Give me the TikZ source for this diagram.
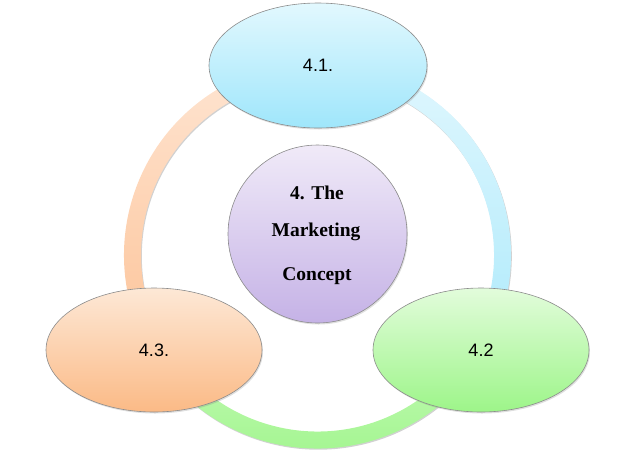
\documentclass[tikz,border=0pt]{standalone}
\usepackage{fontspec}
\setmainfont{Liberation Serif}
\newfontfamily\arialfont{Liberation Sans}
\usetikzlibrary{shapes.geometric,shadows}
\definecolor{blueT}{HTML}{E2F8FE}
\definecolor{blueB}{HTML}{9FE6FB}
\definecolor{purT}{HTML}{F0EAF8}
\definecolor{purB}{HTML}{C5B2E6}
\definecolor{orT}{HTML}{FDE8D6}
\definecolor{orB}{HTML}{FBBA86}
\definecolor{grT}{HTML}{E2FCDB}
\definecolor{grB}{HTML}{9DF589}
\definecolor{rbT}{HTML}{E0F7FE}
\definecolor{rbB}{HTML}{AEEAFB}
\definecolor{rgT}{HTML}{C4F9B6}
\definecolor{rgB}{HTML}{9EF58A}
\definecolor{roT}{HTML}{FEE5D2}
\definecolor{roB}{HTML}{FDC398}
\definecolor{edge}{HTML}{8C8C8C}
\tikzset{
  bubble/.style={ellipse, draw=edge, line width=0.6pt, inner sep=0pt,
    drop shadow={opacity=0.25, shadow xshift=1pt, shadow yshift=-1.5pt}},
  numtext/.style={font=\arialfont\fontsize{18}{21}\selectfont, text=black},
  centertext/.style={font=\bfseries\fontsize{19.5}{22}\selectfont, text=black, anchor=base, inner sep=0pt},
  ringshadow/.style={fill=black, opacity=0.18},
}
\begin{document}
\begin{tikzpicture}[x=1pt, y=-1pt]
\useasboundingbox (0,0) rectangle (626,467);
% ring
\begin{scope}[shift={(317.5,255)}, y=1pt]
  \def\Ro{193.5}\def\Ri{176.5}
  % shadows
  \begin{scope}[shift={(0.8,-1.2)}]
    \path[ringshadow] (90:\Ro) arc[start angle=90, end angle=-270, radius=\Ro]
      -- (-270:\Ri) arc[start angle=-270, end angle=90, radius=\Ri] -- cycle;
  \end{scope}
  \path[top color=rbT, bottom color=rbB] (90:\Ro) arc[start angle=90, end angle=-30, radius=\Ro]
     -- (-30:\Ri) arc[start angle=-30, end angle=90, radius=\Ri] -- cycle;
  \path[top color=rgT, bottom color=rgB] (-30:\Ro) arc[start angle=-30, end angle=-150, radius=\Ro]
     -- (-150:\Ri) arc[start angle=-150, end angle=-30, radius=\Ri] -- cycle;
  \path[top color=roT, bottom color=roB] (210:\Ro) arc[start angle=210, end angle=90, radius=\Ro]
     -- (90:\Ri) arc[start angle=90, end angle=210, radius=\Ri] -- cycle;
\end{scope}
% bubbles
\node[bubble, minimum width=218pt, minimum height=125pt, top color=blueT, bottom color=blueB] (n41) at (318,65.5) {};
\node[numtext] (l41) at (n41.center) {4.1.};
\node[bubble, minimum width=216pt, minimum height=124pt, top color=grT, bottom color=grB] (n42) at (481,350) {};
\node[numtext] (l42) at (n42.center) {4.2};
\node[bubble, minimum width=216pt, minimum height=124pt, top color=orT, bottom color=orB] (n43) at (154,350) {};
\node[numtext] (l43) at (n43.center) {4.3.};
\node[bubble, minimum width=179pt, minimum height=178pt, top color=purT, bottom color=purB] (c) at (317.5,234) {};
\node[centertext] (c1) at (317,199.5) {4. The};
\node[centertext] (c2) at (316,236.5) {Marketing};
\node[centertext] (c3) at (317,280.5) {Concept};
\end{tikzpicture}
\end{document}
